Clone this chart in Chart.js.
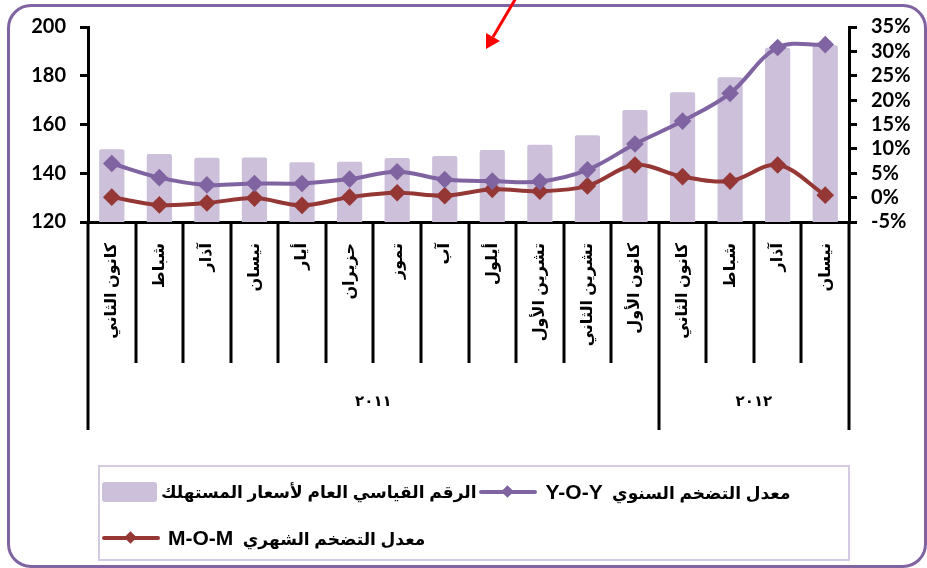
<!DOCTYPE html>
<html>
<head>
<meta charset="utf-8">
<script src="https://cdn.jsdelivr.net/npm/chart.js@4.4.0/dist/chart.umd.min.js"></script>
<style>
  body { margin: 0; background: #fff; }
  #frame {
    position: absolute; left: 7px; top: 4px; width: 914px; height: 558px;
    border: 3px solid #8064a2; border-radius: 24px;
  }
  #myChart { position: absolute; left: 0; top: 0; }
  #legend {
    position: absolute; left: 98px; top: 465px; width: 744px; height: 88px;
    border: 2px solid #d4cbe3; padding: 2px 2px;
    display: flex; flex-wrap: wrap; align-content: flex-start;
    font-family: "Liberation Sans", "DejaVu Sans", sans-serif; font-weight: bold; font-size: 17px;
  }
  .item { display: flex; align-items: center; margin-right: 3px; height: 46px; }
  .item span { margin-left: 4px; white-space: pre; }
  .item .lat { font-size: 21px; font-family: "Liberation Sans", sans-serif; }
  .box { width: 55px; height: 20px; border-radius: 3px; }
  .ln { position: relative; width: 58px; height: 4px; border-radius: 2px; }
  .ln i { position: absolute; left: 24px; top: -3px; width: 9px; height: 9px; transform: rotate(45deg); }
</style>
</head>
<body>
<div id="frame"></div>
<canvas id="myChart" width="927" height="568"></canvas>
<div id="legend"></div>
<script>
const meses = ["كانون الثاني", "شباط", "آذار", "نيسان", "أيار", "حزيران", "تموز", "آب", "أيلول", "تشرين الأول", "تشرين الثاني", "كانون الأول", "كانون الثاني", "شباط", "آذار", "نيسان"];
const anios = ["٢٠١١", "٢٠١٢"];
const mesesPorAnio = [12, 4];

const cpi = [149.8, 147.9, 146.4, 146.5, 144.5, 144.7, 146.3, 147.1, 149.5, 151.7, 155.6, 166.0, 173.2, 179.4, 191.5, 192.5];
const yoy = [7.0, 4.1, 2.6, 2.9, 2.9, 3.8, 5.3, 3.7, 3.4, 3.3, 5.7, 11.0, 15.7, 21.4, 30.8, 31.4];
const mom = [0.1, -1.5, -1.1, -0.1, -1.6, 0.1, 1.0, 0.4, 1.7, 1.3, 2.4, 6.7, 4.3, 3.4, 6.7, 0.5];

const ticksIzq = [120, 140, 160, 180, 200];
const ticksDer = [-5, 0, 5, 10, 15, 20, 25, 30, 35];

const nombreCpi = "الرقم القياسي العام لأسعار المستهلك";
const nombreYoy = "معدل التضخم السنوي  Y-O-Y";
const nombreMom = "معدل التضخم الشهري  M-O-M";

const fuenteNum = { family: "Lato", weight: "bold", size: 20 };
const fuenteAr = { family: "'Liberation Sans', 'DejaVu Sans'", weight: "bold", size: 16 };

// separadores de meses y etiquetas de años debajo del eje x
const lineasAnios = {
  id: "lineasAnios",
  afterDraw(chart) {
    const x = chart.scales.x;
    const ctx = chart.ctx;
    const paso = (x.right - x.left) / meses.length;
    let limites = [0];
    let suma = 0;
    mesesPorAnio.forEach((n) => { suma += n; limites.push(suma); });

    ctx.save();
    ctx.strokeStyle = "#000";
    ctx.lineWidth = 3;
    for (let i = 0; i <= meses.length; i++) {
      const px = Math.round(x.left + i * paso);
      const largo = limites.includes(i) ? 208 : 141;
      ctx.beginPath();
      ctx.moveTo(px, x.top);
      ctx.lineTo(px, x.top + largo);
      ctx.stroke();
    }

    ctx.fillStyle = "#000";
    ctx.font = "bold 15px 'DejaVu Sans'";
    ctx.textAlign = "center";
    ctx.textBaseline = "middle";
    if ("letterSpacing" in ctx) ctx.letterSpacing = "5px";
    for (let j = 0; j < anios.length; j++) {
      const cx = x.left + ((limites[j] + limites[j + 1]) / 2) * paso;
      ctx.fillText(anios[j], cx, x.top + 180);
    }
    ctx.restore();

    // flecha roja de la parte superior
    ctx.save();
    ctx.strokeStyle = "#ff0000";
    ctx.fillStyle = "#ff0000";
    ctx.lineWidth = 3;
    ctx.beginPath();
    ctx.moveTo(516, -2);
    ctx.lineTo(493, 37);
    ctx.stroke();
    ctx.beginPath();
    ctx.moveTo(486, 49);
    ctx.lineTo(486, 33);
    ctx.lineTo(500, 41);
    ctx.closePath();
    ctx.fill();
    ctx.restore();
  },
};

const llamadoGrafico = document.querySelector("#myChart").getContext("2d");

const myChart = new Chart(llamadoGrafico, {
  type: "bar",
  data: {
    labels: meses,
    datasets: [
      {
        type: "line",
        label: nombreYoy,
        data: yoy,
        yAxisID: "y1",
        borderColor: "#8064a2",
        backgroundColor: "#8064a2",
        borderWidth: 4,
        tension: 0.35,
        pointStyle: "rectRot",
        pointRadius: 6,
        order: 1,
      },
      {
        type: "line",
        label: nombreMom,
        data: mom,
        yAxisID: "y1",
        borderColor: "#953735",
        backgroundColor: "#953735",
        borderWidth: 4,
        tension: 0.35,
        pointStyle: "rectRot",
        pointRadius: 6,
        order: 2,
      },
      {
        type: "bar",
        label: nombreCpi,
        data: cpi,
        yAxisID: "y",
        backgroundColor: "#ccc0da",
        barPercentage: 0.53,
        categoryPercentage: 1,
        borderRadius: 2,
        order: 3,
      },
    ],
  },
  options: {
    responsive: false,
    animation: false,
    layout: { padding: { top: 27, bottom: 0, left: 0, right: 0 } },
    plugins: {
      legend: { display: false },
      tooltip: { enabled: false },
    },
    scales: {
      x: {
        grid: { display: false, drawTicks: false },
        border: { color: "#000", width: 3 },
        ticks: {
          autoSkip: false,
          minRotation: 90,
          maxRotation: 90,
          padding: 21,
          color: "#000",
          font: fuenteAr,
        },
        afterFit(s) { s.height = 346; },
      },
      y: {
        position: "left",
        min: 120,
        max: 200,
        afterBuildTicks(s) { s.ticks = ticksIzq.map((v) => ({ value: v })); },
        ticks: { autoSkip: false, color: "#000", padding: 14, font: fuenteNum },
        grid: { drawOnChartArea: false, tickLength: 8, color: "#000", lineWidth: 3 },
        border: { color: "#000", width: 3 },
        afterFit(s) { s.width = 88; },
      },
      y1: {
        position: "right",
        min: -5,
        max: 35,
        afterBuildTicks(s) { s.ticks = ticksDer.map((v) => ({ value: v })); },
        ticks: { autoSkip: false, color: "#000", padding: 14, font: fuenteNum, callback: (v) => v + "%" },
        grid: { drawOnChartArea: false, tickLength: 8, color: "#000", lineWidth: 3 },
        border: { color: "#000", width: 3 },
        afterFit(s) { s.width = 78; },
      },
    },
  },
  plugins: [lineasAnios],
});

// leyenda en html, en el orden del original
function cargaLeyenda() {
  const ds = myChart.data.datasets;
  const orden = [2, 0, 1];
  let html = "";
  orden.forEach((k) => {
    const d = ds[k];
    let muestra;
    if (d.type === "bar") {
      muestra = `<div class="box" style="background:${d.backgroundColor}"></div>`;
    } else {
      muestra = `<div class="ln" style="background:${d.borderColor}"><i style="background:${d.borderColor}"></i></div>`;
    }
    const texto = d.label.replace(/([A-Z]-O-[A-Z])/, '<span class="lat" dir="ltr">$1</span>');
    html += `<div class="item">${muestra}<span dir="rtl">${texto}</span></div>`;
  });
  document.querySelector("#legend").innerHTML = html;
}
cargaLeyenda();
</script>
</body>
</html>
